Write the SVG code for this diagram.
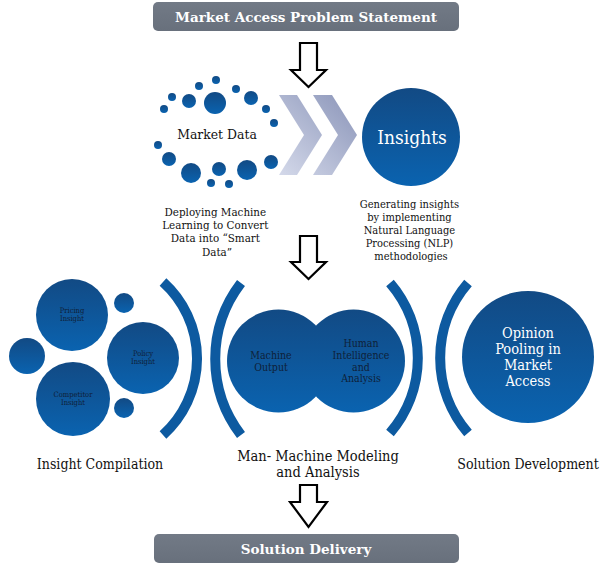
<svg xmlns="http://www.w3.org/2000/svg" width="609" height="564" viewBox="0 0 609 564">
<defs>
<linearGradient id="blue" x1="0" y1="0" x2="0" y2="1">
<stop offset="0" stop-color="#124a84"/>
<stop offset="1" stop-color="#0a63b0"/>
</linearGradient>
<linearGradient id="blueU" gradientUnits="userSpaceOnUse" x1="0" y1="309" x2="0" y2="413">
<stop offset="0" stop-color="#124a84"/>
<stop offset="1" stop-color="#0a63b0"/>
</linearGradient>
<linearGradient id="chev" gradientUnits="userSpaceOnUse" x1="279" y1="175" x2="357" y2="95">
<stop offset="0" stop-color="#d4d9ea"/>
<stop offset="1" stop-color="#8a94b8"/>
</linearGradient>
<linearGradient id="bar" x1="0" y1="0" x2="0" y2="1">
<stop offset="0" stop-color="#727a86"/>
<stop offset="1" stop-color="#68707c"/>
</linearGradient>
</defs>
<style>
.c{fill:url(#blue)}
.bar{fill:url(#bar)}
.bt{font-family:"DejaVu Serif","Liberation Serif",serif;font-weight:bold;fill:#fff;text-anchor:middle}
.t{font-family:"DejaVu Serif","Liberation Serif",serif;font-stretch:condensed;fill:#111;text-anchor:middle}
.w{font-family:"DejaVu Serif","Liberation Serif",serif;font-stretch:condensed;fill:#fff;text-anchor:middle}
.s{font-family:"DejaVu Serif","Liberation Serif",serif;font-stretch:condensed;fill:#0e1f38;text-anchor:middle}
.arr{fill:#fff;stroke:#000;stroke-width:2.2;stroke-linejoin:miter}
.arc{fill:none;stroke:#0d5aa0;stroke-width:10}
</style>

<g id="top-bar">
<rect class="bar" x="153" y="2" width="306" height="29" rx="5"/>
<text class="bt" x="306" y="21.5" font-size="13.5">Market Access Problem Statement</text>
</g>

<g id="connectors">
<path class="arr" d="M300,43 H317 V70 H326 L308.5,87 L291,70 H300 Z"/>
<path class="arr" d="M300,236 H317 V262 H326 L308.5,279 L291,262 H300 Z"/>
<path class="arr" d="M300,485 H317 V502 H327 L308.5,527 L290,502 H300 Z"/>
</g>

<g id="market-data">
<circle class="c" cx="216" cy="80" r="4"/>
<circle class="c" cx="199" cy="86" r="4"/>
<circle class="c" cx="236" cy="89" r="4"/>
<circle class="c" cx="172" cy="97" r="4"/>
<circle class="c" cx="189" cy="101" r="7"/>
<circle class="c" cx="215" cy="103" r="11"/>
<circle class="c" cx="251" cy="98" r="7"/>
<circle class="c" cx="164" cy="109" r="4"/>
<circle class="c" cx="266" cy="109" r="4"/>
<circle class="c" cx="274" cy="123" r="4"/>
<circle class="c" cx="158" cy="145" r="4"/>
<circle class="c" cx="169" cy="159" r="7"/>
<circle class="c" cx="271" cy="162" r="7"/>
<circle class="c" cx="191" cy="173" r="10"/>
<circle class="c" cx="219" cy="169" r="7"/>
<circle class="c" cx="247" cy="170" r="10"/>
<circle class="c" cx="211" cy="183" r="4"/>
<circle class="c" cx="229" cy="184" r="4"/>
<text class="t" x="217" y="139" font-size="13.8">Market Data</text>
</g>

<g id="chevrons">
<polygon fill="url(#chev)" points="279,95 297,95 322,135 297,175 279,175 304,135"/>
<polygon fill="url(#chev)" points="313,95 332,95 357,135 332,175 313,175 338,135"/>
</g>

<g id="insights">
<circle class="c" cx="411" cy="137" r="49"/>
<text class="w" x="412" y="144" font-size="19">Insights</text>
</g>

<g id="ml-text">
<text class="t" font-size="11.5">
<tspan x="217" y="216">Deploying Machine</tspan>
<tspan x="217" y="229">Learning to Convert</tspan>
<tspan x="217" y="242">Data into “Smart</tspan>
<tspan x="217" y="256">Data”</tspan>
</text>
</g>

<g id="nlp-text">
<text class="t" font-size="11">
<tspan x="411" y="208">Generating insights</tspan>
<tspan x="411" y="221">by implementing</tspan>
<tspan x="411" y="234">Natural Language</tspan>
<tspan x="411" y="247">Processing (NLP)</tspan>
<tspan x="411" y="260">methodologies</tspan>
</text>
</g>

<g id="insight-compilation">
<circle class="c" cx="72" cy="315" r="36"/>
<circle class="c" cx="143" cy="358" r="36"/>
<circle class="c" cx="73" cy="399" r="37"/>
<circle class="c" cx="27" cy="356" r="18"/>
<circle class="c" cx="124" cy="303" r="10"/>
<circle class="c" cx="124" cy="408" r="10"/>
<text class="s" font-size="7.5"><tspan x="72" y="313">Pricing</tspan><tspan x="72" y="321">Insight</tspan></text>
<text class="s" font-size="7.5"><tspan x="143" y="356">Policy</tspan><tspan x="143" y="364">Insight</tspan></text>
<text class="s" font-size="7.5"><tspan x="73" y="397">Competitor</tspan><tspan x="73" y="405">Insight</tspan></text>
<text class="t" x="100" y="469" font-size="14">Insight Compilation</text>
</g>

<g id="arcs">
<path class="arc" d="M163,282 A103,103 0 0 1 163,435"/>
<path class="arc" d="M241,283 A125,125 0 0 0 241,435"/>
<path class="arc" d="M390,283 A115,115 0 0 1 390,433"/>
<path class="arc" d="M468,283 A115,115 0 0 0 468,433"/>
</g>

<g id="man-machine">
<circle fill="url(#blueU)" cx="278.5" cy="361" r="51.5"/>
<circle fill="url(#blueU)" cx="353.5" cy="361" r="51.5"/>
<text class="s" font-size="10.5"><tspan x="271" y="359">Machine</tspan><tspan x="271" y="371">Output</tspan></text>
<text class="s" font-size="10.5"><tspan x="361" y="347">Human</tspan><tspan x="361" y="359">Intelligence</tspan><tspan x="361" y="371">and</tspan><tspan x="361" y="382">Analysis</tspan></text>
<text class="t" font-size="14.5"><tspan x="318" y="461">Man- Machine Modeling</tspan><tspan x="318" y="477">and Analysis</tspan></text>
</g>

<g id="solution-development">
<circle class="c" cx="528" cy="357" r="66"/>
<text class="w" font-size="14.5"><tspan x="528" y="338">Opinion</tspan><tspan x="528" y="354">Pooling in</tspan><tspan x="528" y="370">Market</tspan><tspan x="528" y="386">Access</tspan></text>
<text class="t" x="528" y="469" font-size="14">Solution Development</text>
</g>

<g id="bottom-bar">
<rect class="bar" x="154" y="534" width="305" height="29" rx="5"/>
<text class="bt" x="306" y="553.5" font-size="13.5">Solution Delivery</text>
</g>
</svg>
